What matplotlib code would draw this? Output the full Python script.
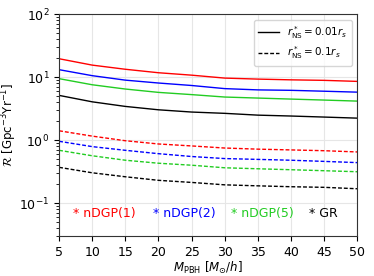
import matplotlib
matplotlib.use("Agg")
import matplotlib.pyplot as plt
import numpy as np
from matplotlib.lines import Line2D

M = [5, 10, 15, 20, 25, 30, 35, 40, 45, 50]

# solid: r*_NS = 0.01 r_s
red_solid = [19.7, 15.6, 13.4, 11.8, 10.8, 9.7, 9.35, 9.1, 8.93, 8.6]
blue_solid = [13.2, 10.6, 9.0, 8.1, 7.4, 6.6, 6.3, 6.2, 6.0, 5.8]
green_solid = [9.5, 7.6, 6.5, 5.75, 5.3, 4.85, 4.67, 4.5, 4.34, 4.18]
black_solid = [5.15, 4.07, 3.44, 3.04, 2.80, 2.67, 2.5, 2.42, 2.33, 2.24]

# dashed: r*_NS = 0.1 r_s
red_dash = [1.41, 1.16, 0.98, 0.87, 0.81, 0.75, 0.72, 0.70, 0.68, 0.65]
blue_dash = [0.96, 0.79, 0.69, 0.61, 0.55, 0.51, 0.495, 0.48, 0.46, 0.44]
green_dash = [0.69, 0.565, 0.48, 0.43, 0.40, 0.364, 0.351, 0.339, 0.327, 0.315]
black_dash = [0.37, 0.303, 0.262, 0.23, 0.213, 0.195, 0.188, 0.182, 0.178, 0.169]

models = ["nDGP(1)", "nDGP(2)", "nDGP(5)", "GR"]
colors = ["red", "blue", "#22cc22", "black"]
label_x = [7.1, 19.2, 31.0, 42.7]
label_y = 0.069

fig = plt.figure(figsize=(3.74, 2.76), dpi=100)
ax = fig.add_axes([0.158, 0.145, 0.797, 0.803])

DASH = (2.8, 1.4)
solids = [red_solid, blue_solid, green_solid, black_solid]
dashes = [red_dash, blue_dash, green_dash, black_dash]
for s, d, c in zip(solids, dashes, colors):
    ax.plot(M, s, color=c, lw=1.0, ls='-')
    ax.plot(M, d, color=c, lw=1.0, ls=(0, DASH))

ax.set_yscale('log')
ax.set_xlim(5, 50)
ax.set_ylim(0.03, 100)
ax.set_xticks(range(5, 51, 5))
ax.grid(True, which='major', color='#e6e6e6', lw=0.8)
ax.set_axisbelow(True)
ax.tick_params(labelsize=9)
for sp in ax.spines.values():
    sp.set_color('#333333')

for m, c, x in zip(models, colors, label_x):
    ax.text(x, label_y, "* " + m, color=c, fontsize=9, va='center')

handles = [Line2D([], [], color='black', lw=1.0, ls='-'),
           Line2D([], [], color='black', lw=1.0, ls=(0, DASH))]
ax.legend(handles, [r"$r^*_{\rm NS}=0.01r_s$", r"$r^*_{\rm NS}=0.1r_s$"],
          loc='upper right', fontsize=7.5, handlelength=2.0,
          labelspacing=0.4, borderpad=0.4)

ax.set_xlabel(r"$M_{\rm PBH}$ [$M_{\odot}/h$]", fontsize=8.5, labelpad=1)
ax.set_ylabel(r"$\mathcal{R}$ [Gpc$^{-3}$Yr$^{-1}$]", fontsize=8.5, labelpad=0.5)

fig.savefig("out.png", dpi=100)
